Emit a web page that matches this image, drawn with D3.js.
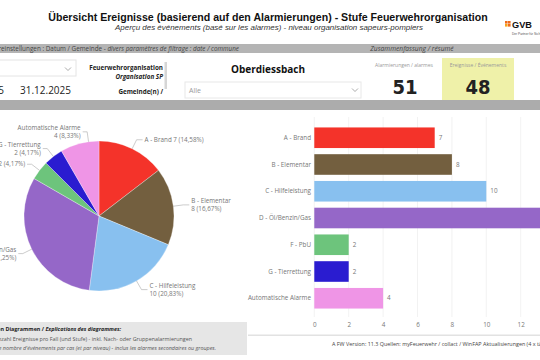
<!DOCTYPE html>
<html><head><meta charset="utf-8">
<script src="https://cdn.jsdelivr.net/npm/d3@7"></script>
<style>
html,body{margin:0;padding:0;background:#fff;overflow:hidden;}
svg{display:block;}
</style></head>
<body>
<svg id="c" width="540" height="360"></svg>
<script>
// ---- data ----
const categories = ["A - Brand","B - Elementar","C - Hilfeleistung","D - Öl/Benzin/Gas","F - PbU","G - Tierrettung","Automatische Alarme"];
const values = [7, 8, 10, 15, 2, 2, 4];
const colors = ["#f4332a","#735f3f","#88c0ef","#9567c8","#6dc47c","#2a1cd0","#ef95e6"];
const xTicks = [0, 2, 4, 6, 8, 10, 12, 14];
const alarmCount = 51;
const eventCount = 48;
const titleText = "Übersicht Ereignisse (basierend auf den Alarmierungen) - Stufe Feuerwehrorganisation";
const subtitleText = "Aperçu des événements (basé sur les alarmes) - niveau organisation sapeurs-pompiers";

const svg = d3.select("#c");
const UI = "'Segoe UI','Open Sans','Noto Sans',sans-serif";
const AR = "'Liberation Sans',Arial,sans-serif";

// fit a text's font size so that its natural width equals the target width
function fitText(sel, target, maxSize) {
  const w = sel.node().getComputedTextLength();
  const fs = +sel.attr("font-size");
  sel.attr("font-size", Math.min(maxSize, fs * target / w));
}

// ---- header ----
const tt = svg.append("text").attr("x",268).attr("y",21).attr("text-anchor","middle")
  .attr("font-family",AR).attr("font-weight","bold").attr("font-size",11.5)
  .attr("fill","#111").text(titleText);
fitText(tt, 440, 12.5);
const st = svg.append("text").attr("x",269).attr("y",30).attr("text-anchor","middle")
  .attr("font-family",AR).attr("font-style","italic").attr("font-size",8.3)
  .attr("fill","#333").text(subtitleText);
fitText(st, 308, 9);
// logo
[[505,21],[508,21],[505,24],[508,24]].forEach((p,i)=>{
  svg.append("rect").attr("x",p[0]).attr("y",p[1]).attr("width",2.6).attr("height",2.6)
    .attr("fill", i===2 ? "#f7a21b" : "#ef6a1a");
});
svg.append("text").attr("x",512).attr("y",27.5).attr("font-family",AR).attr("font-weight","bold")
  .attr("font-size",9.2).attr("fill","#111").text("GVB");
svg.append("text").attr("x",512).attr("y",34.5).attr("font-family",AR)
  .attr("font-size",3.2).attr("fill","#555").text("Der Partner für Sicherheit");

// ---- gray bars ----
svg.append("rect").attr("x",0).attr("y",44).attr("width",540).attr("height",9).attr("fill","#b4b4b4");
svg.append("text").attr("x",239).attr("y",50.8).attr("text-anchor","end").attr("font-family",UI)
  .attr("font-size",6.35).attr("fill","#444")
  .html("Filtereinstellungen : Datum / Gemeinde  - <tspan font-style='italic'>divers paramètres de filtrage : date / commune</tspan>");
svg.append("text").attr("x",412).attr("y",51.3).attr("text-anchor","middle").attr("font-family",UI)
  .attr("font-size",6.7).attr("font-style","italic").attr("fill","#444").text("Zusammenfassung / résumé");

// date dropdown
svg.append("rect").attr("x",-2).attr("y",60).attr("width",78).attr("height",16).attr("fill","#fff").attr("stroke","#e4e4e4");
const chev = (cx,cy)=> svg.append("path").attr("d",`M${cx-3},${cy-1.5}L${cx},${cy+1.5}L${cx+3},${cy-1.5}`)
  .attr("fill","none").attr("stroke","#888").attr("stroke-width",0.7);
chev(68,69);
svg.append("text").attr("x",4).attr("y",94).attr("text-anchor","end").attr("font-family",UI).attr("font-size",10).attr("fill","#222").text("01.01.2025");
svg.append("text").attr("x",20).attr("y",94).attr("font-family",UI).attr("font-size",10).attr("fill","#222").text("31.12.2025");

// organisation labels
svg.append("text").attr("x",163).attr("y",69.5).attr("text-anchor","end").attr("font-family",UI).attr("font-weight","bold").attr("font-size",6.3).attr("fill","#222").text("Feuerwehrorganisation");
svg.append("text").attr("x",163).attr("y",78.5).attr("text-anchor","end").attr("font-family",UI).attr("font-weight","bold").attr("font-style","italic").attr("font-size",6.3).attr("fill","#222").text("Organisation SP");
svg.append("text").attr("x",163).attr("y",94).attr("text-anchor","end").attr("font-family",UI).attr("font-weight","bold").attr("font-size",6.3).attr("fill","#222").text("Gemeinde(n) /");
svg.append("rect").attr("x",164.5).attr("y",62).attr("width",2.5).attr("height",27).attr("fill","#d6d6d6");
svg.append("text").attr("x",268).attr("y",73).attr("text-anchor","middle").attr("font-family",UI).attr("font-weight","bold").attr("font-size",10).attr("fill","#111").text("Oberdiessbach");
svg.append("rect").attr("x",185).attr("y",82).attr("width",176).attr("height",16).attr("fill","#fff").attr("stroke","#e8e8e8");
svg.append("text").attr("x",189).attr("y",93).attr("font-family",UI).attr("font-size",7).attr("fill","#999").text("Alle");
chev(355,90);

// KPI cards
svg.append("rect").attr("x",442).attr("y",58).attr("width",72).attr("height",42).attr("fill","#eff1a9");
svg.append("text").attr("x",404).attr("y",67).attr("text-anchor","middle").attr("font-family",UI).attr("font-size",5).attr("fill","#999").text("Alarmierungen / alarmes");
svg.append("text").attr("x",478).attr("y",67).attr("text-anchor","middle").attr("font-family",UI).attr("font-size",5).attr("fill","#999").text("Ereignisse / Événements");
svg.append("text").attr("x",405).attr("y",93.5).attr("text-anchor","middle").attr("font-family","'DejaVu Sans Condensed','Roboto',sans-serif").attr("font-weight","bold").attr("font-size",20).attr("fill","#222").text(alarmCount);
svg.append("text").attr("x",478).attr("y",93.5).attr("text-anchor","middle").attr("font-family","'DejaVu Sans Condensed','Roboto',sans-serif").attr("font-weight","bold").attr("font-size",20).attr("fill","#222").text(eventCount);

// second gray bar
svg.append("rect").attr("x",0).attr("y",100).attr("width",540).attr("height",10).attr("fill","#acacac");

// ---- pie ----
const total = d3.sum(values);
const pieData = d3.pie().sort(null).value(d=>d.v)(categories.map((c,i)=>({c, v:values[i], col:colors[i]})));
const R = 75, cx = 99, cy = 216;
const arc = d3.arc().innerRadius(0).outerRadius(R);
const pg = svg.append("g").attr("transform",`translate(${cx},${cy})`);
pg.selectAll("path").data(pieData).join("path").attr("d",arc).attr("fill",d=>d.data.col)
  .attr("stroke","#fff").attr("stroke-width",0.3);

const pct = v => (v/total*100).toFixed(2).replace(".",",") + "%";
// label layout: anchor angle override and single-line labels
const angleOverride = {"Automatische Alarme": 352*Math.PI/180};
const singleLine = new Set(["A - Brand","F - PbU"]);
pieData.forEach(d=>{
  const a = angleOverride[d.data.c] !== undefined ? angleOverride[d.data.c] : (d.startAngle+d.endAngle)/2;
  const p0 = [Math.sin(a)*R, -Math.cos(a)*R];
  const p1 = [Math.sin(a)*(R+10), -Math.cos(a)*(R+10)];
  const right = Math.sin(a) > 0;
  const p2 = [p1[0] + (right?6:-4.5), p1[1]];
  pg.append("path").attr("d",`M${p0}L${p1}L${p2}`).attr("fill","none").attr("stroke","#aaa").attr("stroke-width",0.6);
  const lx = p2[0]+(right?2:-2);
  const t = pg.append("text").attr("x",lx).attr("y",p2[1])
    .attr("text-anchor",right?"start":"end").attr("font-family",UI).attr("font-size",6.3).attr("fill","#777");
  const valStr = `${d.data.v} (${pct(d.data.v)})`;
  if (singleLine.has(d.data.c)) {
    t.append("tspan").attr("x",lx).attr("dy","0.35em").text(`${d.data.c} ${valStr}`);
  } else {
    t.append("tspan").attr("x",lx).attr("dy","-0.25em").text(d.data.c);
    t.append("tspan").attr("x",lx).attr("dy","1.2em").text(valStr);
  }
});

// ---- bar chart ----
const x = d3.scaleLinear().domain([0,16]).range([314.3, 314.3+16*17.2]);
const y = d3.scaleBand().domain(categories).range([118,318]).paddingInner(0.23).paddingOuter(0.353);
const bg = svg.append("g");
bg.selectAll("line.g").data(xTicks).join("line").attr("x1",d=>x(d)).attr("x2",d=>x(d))
  .attr("y1",117).attr("y2",317).attr("stroke","#efefef").attr("stroke-width",0.8);
const xa = bg.append("g").attr("transform","translate(0,320)")
  .call(d3.axisBottom(x).tickValues(xTicks).tickSize(0).tickPadding(3));
xa.select(".domain").remove();
xa.selectAll("text").attr("font-family",UI).attr("font-size",6.3).attr("fill","#777");
const ya = bg.append("g").attr("transform","translate(311,0)").call(d3.axisLeft(y).tickSize(0).tickPadding(0));
ya.select(".domain").remove();
ya.selectAll("text").attr("font-family",UI).attr("font-size",6.3).attr("fill","#777");
bg.selectAll("rect.b").data(categories).join("rect").attr("x",x(0)).attr("y",d=>y(d))
  .attr("width",(d,i)=>x(values[i])-x(0)).attr("height",y.bandwidth()).attr("fill",(d,i)=>colors[i]);
bg.selectAll("text.v").data(categories).join("text").attr("x",(d,i)=>x(values[i])+4)
  .attr("y",d=>y(d)+y.bandwidth()/2).attr("dy","0.35em").attr("font-family",UI).attr("font-size",6.3)
  .attr("fill","#777").text((d,i)=>values[i]);

// divider line
svg.append("rect").attr("x",248).attr("y",334.5).attr("width",292).attr("height",1.5).attr("fill","#e2e2e2");

// explanation box
svg.append("rect").attr("x",0).attr("y",322).attr("width",247).attr("height",33).attr("fill","#e6e6e6");
svg.append("text").attr("x",121).attr("y",331).attr("text-anchor","end").attr("font-family",UI).attr("font-size",5.4)
  .attr("font-weight","bold").attr("fill","#222")
  .html("Erklärungen zu den Diagrammen / <tspan font-style='italic'>Explications des diagrammes:</tspan>");
svg.append("text").attr("x",192).attr("y",341).attr("text-anchor","end").attr("font-family",UI).attr("font-size",5.4)
  .attr("fill","#555").text("Die Diagramme zeigen die Anzahl Ereignisse pro Fall (und Stufe) - inkl. Nach- oder Gruppenalarmierungen");
svg.append("text").attr("x",216).attr("y",350).attr("text-anchor","end").attr("font-family",UI).attr("font-size",5.4)
  .attr("font-style","italic").attr("fill","#555").text("Les diagrammes montrent le nombre d'événements par cas (et par niveau) -   inclus les alarmes secondaires ou groupes.");

// footer
svg.append("text").attr("x",332).attr("y",346).attr("font-family",UI).attr("font-size",5.4).attr("fill","#444")
  .text("A FW  Version: 11.3  Quellen: myFeuerwehr / collact / WinFAP   Aktualisierungen (4 x täglich)");
</script>
</body></html>
